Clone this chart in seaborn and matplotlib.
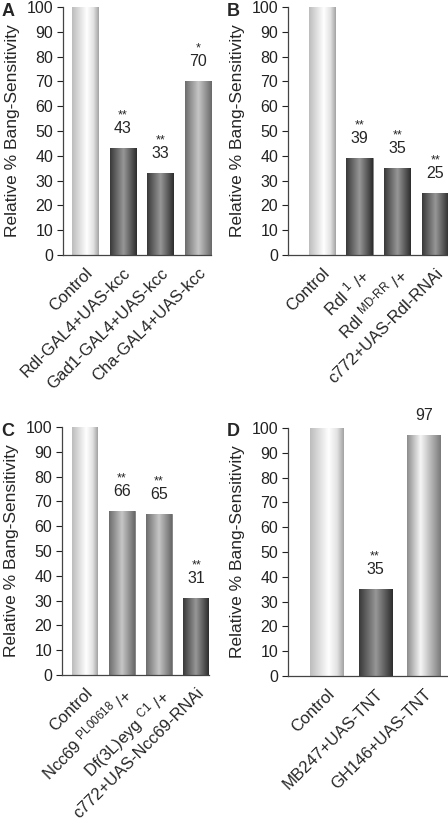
import numpy as np
import pandas as pd
import matplotlib
matplotlib.use("Agg")
import matplotlib.pyplot as plt
import seaborn as sns
from matplotlib.colors import LinearSegmentedColormap

# datos de las cuatro figuras
labels_a = ["Control", "Rdl-GAL4+UAS-kcc", "Gad1-GAL4+UAS-kcc", "Cha-GAL4+UAS-kcc"]
values_a = [100, 43, 33, 70]
stars_a = ["", "**", "**", "*"]

labels_b = ["Control", r"Rdl ${}^{\mathregular{1}}$ /+", r"Rdl ${}^{\mathregular{MD\text{-}RR}}$ /+", "c772+UAS-Rdl-RNAi"]
values_b = [100, 39, 35, 25]
stars_b = ["", "**", "**", "**"]

labels_c = ["Control", r"Ncc69 ${}^{\mathregular{PL00618}}$ /+", r"Df(3L)eyg ${}^{\mathregular{C1}}$ /+", "c772+UAS-Ncc69-RNAi"]
values_c = [100, 66, 65, 31]
stars_c = ["", "**", "**", "**"]

labels_d = ["Control", "MB247+UAS-TNT", "GH146+UAS-TNT"]
values_d = [100, 35, 97]
stars_d = ["", "**", ""]

sns.set_style("white")
plt.rcParams["font.family"] = ["Liberation Sans", "DejaVu Sans"]
plt.rcParams["mathtext.fontset"] = "custom"
plt.rcParams["mathtext.rm"] = "Liberation Sans"
plt.rcParams["mathtext.it"] = "Liberation Sans"

# sombreado cilindrico de las barras
grad = {
    "light": LinearSegmentedColormap.from_list("l", [(0, "#bcbcbc"), (0.55, "#ffffff"), (0.8, "#e2e2e2"), (1, "#a2a2a2")]),
    "dark": LinearSegmentedColormap.from_list("d", [(0, "#383838"), (0.5, "#979797"), (1, "#2c2c2c")]),
    "mid": LinearSegmentedColormap.from_list("m", [(0, "#6c6c6c"), (0.5, "#c6c6c6"), (1, "#686868")]),
    "pale": LinearSegmentedColormap.from_list("p", [(0, "#8c8c8c"), (0.4, "#f6f6f6"), (1, "#7a7a7a")]),
}

panels = [
    ("A", labels_a, values_a, stars_a, ["light", "dark", "dark", "mid"], [63, 211, 7, 255], (-0.58, 3.345), 0.69),
    ("B", labels_b, values_b, stars_b, ["light", "dark", "dark", "dark"], [288, 448, 7, 255], (-0.89, 3.34), 0.69),
    ("C", labels_c, values_c, stars_c, ["light", "mid", "mid", "dark"], [62, 209, 427, 675], (-0.6, 3.34), 0.69),
    ("D", labels_d, values_d, stars_d, ["light", "dark", "pale"], [288, 448, 428, 676], (-0.79, 2.5), 0.68),
]

W, H = 448, 826
fig = plt.figure(figsize=(W / 100, H / 100), dpi=100)

for letter, labels, values, stars, shades, box, xlim, bw in panels:
    x0, x1, yt, yb = box
    ax = fig.add_axes([x0 / W, 1 - yb / H, (x1 - x0) / W, (yb - yt) / H])
    df = pd.DataFrame({"grupo": labels, "valor": values})
    sns.barplot(data=df, x="grupo", y="valor", color="white", width=bw, ax=ax,
                edgecolor="#555555", linewidth=0.5, zorder=2)
    g = np.linspace(0, 1, 256).reshape(1, -1)
    for p, s in zip(ax.patches, shades):
        bx, by = p.get_x(), p.get_y()
        im = ax.imshow(g, cmap=grad[s], aspect="auto", zorder=2.5,
                       extent=[bx, bx + p.get_width(), by, by + p.get_height()])
        im.set_clip_path(p)
    ax.set_xlim(*xlim)
    ax.set_ylim(0, 100)

    for i, (v, st) in enumerate(zip(values, stars)):
        if i == 0:
            continue
        ax.annotate(str(v), (i, v), xytext=(0, 11), textcoords="offset points",
                    ha="center", va="baseline", fontsize=11.5, annotation_clip=False)
        if st:
            ax.annotate(st, (i, v), xytext=(0, 21.5), textcoords="offset points",
                        ha="center", va="baseline", fontsize=9, annotation_clip=False)

    ax.set_yticks(range(0, 101, 10))
    ax.tick_params(axis="y", left=True, length=4, width=0.8, labelsize=11.5, pad=3, colors="#222222")
    ax.tick_params(axis="x", bottom=False, labelsize=12, pad=4)
    ax.set_xticks(range(len(labels)))
    ax.set_xticklabels(labels, rotation=45, ha="right", rotation_mode="anchor")
    ax.set_xlabel("")
    ax.set_ylabel("Relative % Bang-Sensitivity", fontsize=12.5, labelpad=5)
    sns.despine(ax=ax)
    for sp in ["left", "bottom"]:
        ax.spines[sp].set_color("#444444")
        ax.spines[sp].set_linewidth(0.9)
    fig.text((x0 - 61) / W, 1 - (yt + 4) / H, letter, fontsize=13, fontweight="bold",
             ha="left", va="center")

fig.savefig("out.png", dpi=100)
